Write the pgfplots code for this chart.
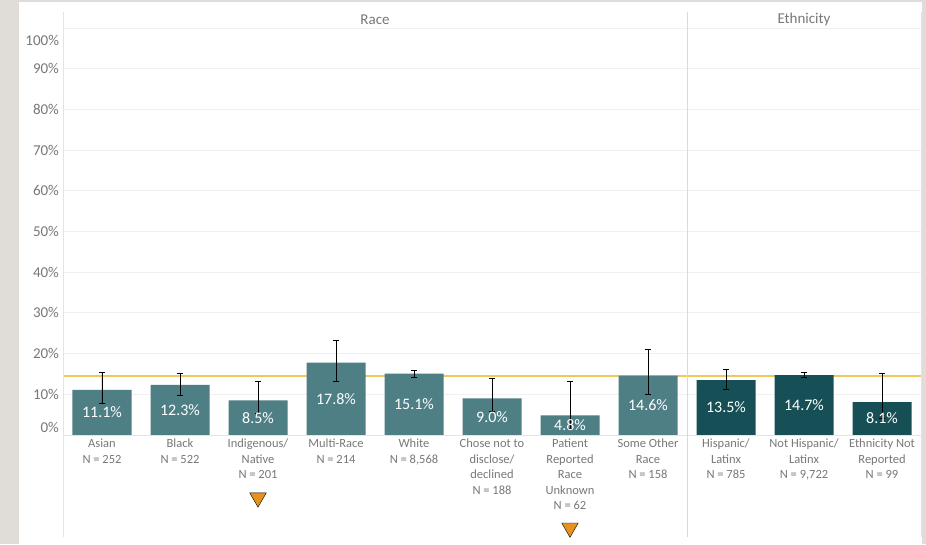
\documentclass[border=0pt]{standalone}
\usepackage{fontspec}
\setmainfont{Carlito}
\usepackage{pgfplots}
\usepackage{pgfplotstable}
\pgfplotsset{compat=1.18}

\definecolor{bgGray}{RGB}{224,221,217}
\definecolor{raceBar}{RGB}{78,127,133}
\definecolor{ethBar}{RGB}{22,80,86}
\definecolor{benchYellow}{RGB}{238,200,90}
\definecolor{triOrange}{RGB}{232,146,30}
\definecolor{txtGray}{RGB}{120,120,120}
\definecolor{gridGray}{RGB}{240,240,240}
\definecolor{frameGray}{RGB}{228,228,228}

% x, value, lower and upper end of the error bar (percent)
\pgfplotstableread{
x v lo hi
0 11.1 7.8 15.4
1 12.3 9.7 15.2
2 8.5 5.4 13.2
3 17.8 13.2 23.3
4 15.1 14.2 15.8
5 9.0 5.7 13.9
6 4.8 1.5 13.2
7 14.6 9.9 20.9
}\race
\pgfplotstableread{
x v lo hi
8 13.5 11.3 16.0
9 14.7 14.1 15.4
10 8.1 4.1 15.1
}\ethn

\begin{document}
\begin{tikzpicture}[x=1pt,y=1pt]
\fill[bgGray] (0,0) rectangle (926,544);
\fill[white] (19,0) rectangle (922,542);
\useasboundingbox (0,0) rectangle (926,544);

\begin{axis}[
    at={(63pt,109pt)}, anchor=south west,
    scale only axis, width=858pt, height=407pt,
    xmin=-0.5, xmax=10.5, ymin=0, ymax=100,
    clip=false,
    /pgf/number format/assume math mode=true,
    axis line style={draw=none},
    major tick length=0pt,
    xtick={0,...,10},
    xticklabels={
      {Asian\\N = 252},
      {Black\\N = 522},
      {Indigenous/\\Native\\N = 201},
      {Multi-Race\\N = 214},
      {White\\N = 8,568},
      {Chose not to\\disclose/\\declined\\N = 188},
      {Patient\\Reported\\Race\\Unknown\\N = 62},
      {Some Other\\Race\\N = 158},
      {Hispanic/\\Latinx\\N = 785},
      {Not Hispanic/\\Latinx\\N = 9,722},
      {Ethnicity Not\\Reported\\N = 99}},
    xticklabel style={align=center, text=txtGray,
      font=\fontsize{12.5}{15.5}\selectfont, yshift=-0.5pt},
    ytick={1.97,10,20,30,40,50,60,70,80,90,97.05},
    yticklabels={0\%,10\%,20\%,30\%,40\%,50\%,60\%,70\%,80\%,90\%,100\%},
    yticklabel style={text=txtGray, font=\fontsize{15}{16}\selectfont, xshift=-0.5pt},
    extra y ticks={10,20,30,40,50,60,70,80,90,100},
    extra y tick labels={},
    extra y tick style={grid=major, major grid style={gridGray, line width=0.8pt}},
  ]
  % benchmark line
  \addplot[color=benchYellow, solid, line width=2pt, mark=none, forget plot]
    coordinates {(-0.5,14.6) (10.5,14.6)};

  \addplot[ybar, bar width=59pt, bar shift=0pt, fill=raceBar, draw=none,
    nodes near coords={\pgfmathprintnumber[fixed,fixed zerofill,precision=1]{\pgfplotspointmeta}\%},
    visualization depends on={\thisrow{v} \as \barval},
    every node near coord/.append style={anchor=center, yshift={-2.035pt*\barval},
      text=white, font=\fontsize{16}{18}\selectfont},
    error bars/.cd, y dir=both, y explicit,
    error bar style={black, line width=0.9pt},
    error mark options={rotate=90, mark size=3.4pt, black, line width=0.9pt}]
    table[x=x, y=v, y error plus expr=\thisrow{hi}-\thisrow{v},
      y error minus expr=\thisrow{v}-\thisrow{lo}] {\race};

  \addplot[ybar, bar width=59pt, bar shift=0pt, fill=ethBar, draw=none,
    nodes near coords={\pgfmathprintnumber[fixed,fixed zerofill,precision=1]{\pgfplotspointmeta}\%},
    visualization depends on={\thisrow{v} \as \barval},
    every node near coord/.append style={anchor=center, yshift={-2.035pt*\barval},
      text=white, font=\fontsize{16}{18}\selectfont},
    error bars/.cd, y dir=both, y explicit,
    error bar style={black, line width=0.9pt},
    error mark options={rotate=90, mark size=3.4pt, black, line width=0.9pt}]
    table[x=x, y=v, y error plus expr=\thisrow{hi}-\thisrow{v},
      y error minus expr=\thisrow{v}-\thisrow{lo}] {\ethn};

  % flags below small-sample categories
  \addplot[only marks, mark=triangle*, mark size=9.5pt,
    mark options={rotate=180, fill=triOrange, draw=none}]
    coordinates {(2,-15.4) (6,-22.8)};
\end{axis}

% panel frame and headers
\draw[frameGray, line width=0.8pt] (63,109) -- (921,109);
\draw[frameGray, line width=0.8pt] (63,7) -- (63,532);
\draw[black!15, line width=0.9pt] (687,7) -- (687,532);
\draw[frameGray, line width=0.8pt] (921,7) -- (921,532);
\node[text=txtGray, font=\fontsize{15}{17}\selectfont] at (375,524) {Race};
\node[text=txtGray, font=\fontsize{15}{17}\selectfont] at (804,524) {Ethnicity};
\end{tikzpicture}
\end{document}
